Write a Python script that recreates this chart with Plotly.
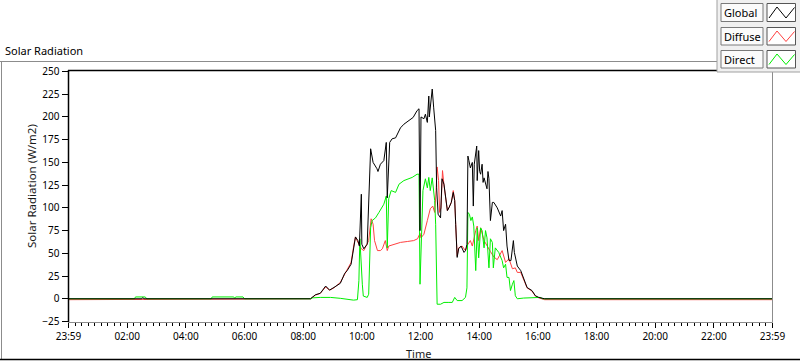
import plotly.graph_objects as go

# ---------------- data (time in minutes after midnight, values in W/m2) ----------------
global_t = [0, 150, 151, 153, 154, 495, 505, 515, 526, 534, 543, 550, 556, 565, 570, 578, 584, 587, 592, 595,
            599, 600, 604, 611, 618, 623, 631, 633, 638, 645, 650, 652, 657, 662, 669, 679, 686, 696, 705,
            713, 717, 719, 721, 727, 730, 734, 736, 737, 738, 742, 744, 747, 751, 753, 756, 761, 764, 768,
            771, 775, 778, 783, 787, 790, 792, 794, 795, 798, 803, 809, 812, 815, 817, 819, 822, 826, 828,
            830, 833, 835, 836, 839, 841, 843, 846, 848, 850, 853, 856, 858, 860, 863, 867, 870, 877, 884,
            887, 890, 894, 897, 901, 905, 910, 912, 918, 925, 931, 938, 948, 955, 962, 972, 974, 1440]
global_v = [0, 0, 1, 1, 0, 0, 4.4, 6, 14, 9.5, 12.5, 15, 17, 28, 31, 38, 58, 68, 64, 58,
            115, 60, 55, 60, 165, 150, 143, 140, 148, 152, 172, 111, 172, 176, 177, 188, 192, 196, 199.5,
            207, 209, 75, 200, 198, 203, 194, 215, 223, 200, 227, 230.7, 210, 185, 122, 93, 89, 132, 126,
            111, 97, 100, 106, 117, 108, 82, 49, 45.5, 55, 58, 51, 53, 60, 157, 152, 144, 150, 102,
            148, 160, 168, 130, 163, 140, 137, 148, 128, 133, 126, 121, 140, 132, 86, 106, 106, 100, 91,
            97, 75, 82, 58, 42, 42, 64, 51, 36, 31, 21.7, 12.4, 9, 3.3, 1.5, 0.3, 0, 0]

diffuse_t = [0, 495, 505, 515, 526, 534, 543, 550, 556, 565, 570, 578, 584, 587, 592, 594, 599, 604, 609,
             614, 619, 623, 626, 630, 632, 638, 642, 648, 652, 655, 665, 679, 693, 706, 714, 719, 721, 727,
             734, 740, 745, 749, 752, 754, 757, 759, 762, 765, 768, 771, 775, 778, 783, 787, 790, 792, 795,
             798, 805, 812, 817, 822, 826, 833, 836, 839, 843, 850, 856, 863, 870, 877, 887, 894, 901, 908,
             914, 918, 925, 931, 938, 948, 955, 962, 972, 974, 1440]
diffuse_v = [-1, 0, 4, 6, 13, 9.5, 12, 15, 18, 27, 32, 40, 60, 68, 62, 60, 55, 53, 58,
             64, 88, 82, 64, 55, 53, 53, 55, 64, 53, 58, 60, 62, 63, 64, 66, 72, 67, 71,
             86, 99, 102, 95, 119, 145, 130, 95, 100, 141, 125, 111, 97, 100, 106, 119, 108, 82, 47,
             56, 58, 53, 60, 64, 58, 75, 80, 64, 78, 64, 58, 52, 46, 43, 53, 40, 44, 33,
             34, 29, 29, 21, 12, 8.5, 3, 1, 0, -1, -1]

direct_t = [0, 135, 137, 157, 160, 292, 294, 338, 340, 342, 357, 360, 495, 499, 515, 536, 556, 577, 583,
            591, 594, 596, 598, 601, 603, 611, 614, 617, 618, 621, 628, 635, 645, 650, 652, 655, 660, 669,
            676, 686, 696, 703, 713, 717, 719, 721, 723, 725, 730, 734, 737, 740, 744, 746, 749, 751, 753,
            754, 761, 768, 778, 785, 790, 795, 805, 812, 815, 817, 820, 823, 826, 829, 833, 836, 839, 843,
            846, 850, 853, 856, 860, 863, 867, 869, 873, 880, 887, 890, 894, 897, 901, 904, 908, 911, 914,
            918, 931, 959, 965, 970, 1440]
direct_v = [0, 0, 2, 2, 0, 0, 2, 2, 0.5, 2, 2, 0, 0, 1, 1.5, 1.5, 0.5, -0.5, -1.5,
            -1, 20, 66, 40, 16, 3, 1.5, 5, 60, 78, 86, 89, 95, 104, 113, 56, 110, 119, 117,
            126, 130, 132, 133.5, 137, 137, 16, 60, 75, 119, 132, 122, 133.5, 119, 133, 122, 108, 82, 27,
            -6, -6, -4, -4, -4, 1.5, -2, -2, 1.5, 12, 95, 93, 86, 90, 80, 31, 78, 45, 78,
            75, 56, 75, 67, 34, 66, 62, 34, 56, 51, 42, 34, 38, 23.5, 23.5, 9, 16, 20, 3.3,
            0, 0.8, 0.8, 1.5, 0, 0]

x_tick_vals = [0, 120, 240, 360, 480, 600, 720, 840, 960, 1080, 1200, 1320, 1440]
x_tick_text = ["23:59", "02:00", "04:00", "06:00", "08:00", "10:00", "12:00",
               "14:00", "16:00", "18:00", "20:00", "22:00", "23:59"]
y_tick_vals = [-25, 0, 25, 50, 75, 100, 125, 150, 175, 200, 225, 250]
series_names = ["Global", "Diffuse", "Direct"]
series_colors = ["#000000", "#ff4040", "#00ee00"]

# ---------------- figure ----------------
W, H = 800, 361
FONT = "Noto Sans"


def px(x):
    return x / W


def py(y):
    return 1 - y / H


fig = go.Figure()
fig.add_trace(go.Scatter(x=diffuse_t, y=diffuse_v, mode="lines", name="Diffuse",
                         line=dict(color=series_colors[1], width=1), showlegend=False))
fig.add_trace(go.Scatter(x=direct_t, y=direct_v, mode="lines", name="Direct",
                         line=dict(color=series_colors[2], width=1), showlegend=False))
fig.add_trace(go.Scatter(x=global_t, y=global_v, mode="lines", name="Global",
                         line=dict(color=series_colors[0], width=1), showlegend=False))

shapes = []


def line(x0, y0, x1, y1, color, width=1):
    shapes.append(dict(type="line", xref="paper", yref="paper", x0=px(x0), y0=py(y0),
                       x1=px(x1), y1=py(y1), line=dict(color=color, width=width), layer="above"))


def rect(x0, y0, x1, y1, fill, border, width=1):
    shapes.append(dict(type="rect", xref="paper", yref="paper", x0=px(x0), y0=py(y0),
                       x1=px(x1), y1=py(y1), fillcolor=fill, line=dict(color=border, width=width),
                       layer="above"))


# outer frame
line(0, 61.5, 717, 61.5, "#8c8c8c")
line(1.5, 61.5, 1.5, 359.5, "#8c8c8c")
line(0, 359.5, 800, 359.5, "#000000", 1.5)
# plot border
line(68, 70.5, 772, 70.5, "#000000", 1.5)
line(68.5, 70, 68.5, 322, "#000000", 1.5)
line(772.5, 70, 772.5, 322.5, "#8c8c8c")
line(68, 322.5, 772.5, 322.5, "#8c8c8c")

# legend panel
rect(717, -2, 802, 72, "#f0f0f0", "#a0a0a0")
annotations = []
rows = [(3.5, 21.5), (27.5, 45), (50.5, 68)]
for (t, b), name, col in zip(rows, series_names, series_colors):
    rect(721, t, 763, b, "#fbfbfb", "#7a7a7a")
    rect(767, t, 795.5, b, "#ffffff", "#555555")
    yb, yt = b - 3.5, t + 3.5
    path = "M {} {} L {} {} L {} {} L {} {}".format(
        px(769), py(yb), px(777), py(yt), px(786), py(yb), px(794.5), py(yt + 0.5))
    shapes.append(dict(type="path", xref="paper", yref="paper", path=path,
                       line=dict(color=col, width=1), layer="above"))
    annotations.append(dict(text=name, xref="paper", yref="paper", x=px(722), y=py((t + b) / 2),
                            xanchor="left", yanchor="middle", showarrow=False,
                            font=dict(family=FONT, size=11, color="#000000")))

annotations.append(dict(text="Solar Radiation", xref="paper", yref="paper", x=px(3), y=py(50.5),
                        xanchor="left", yanchor="middle", showarrow=False,
                        font=dict(family=FONT, size=11, color="#000000")))
annotations.append(dict(text="Solar Radiation (W/m2)", xref="paper", yref="paper", x=px(31),
                        y=py(186), xanchor="center", yanchor="middle", showarrow=False, textangle=-90,
                        font=dict(family=FONT, size=11.5, color="#1a1a1a")))
annotations.append(dict(text="Time", xref="paper", yref="paper", x=px(418), y=py(353),
                        xanchor="center", yanchor="middle", showarrow=False,
                        font=dict(family=FONT, size=11, color="#1a1a1a")))

fig.update_layout(
    width=W, height=H,
    margin=dict(l=0, r=0, t=0, b=0),
    paper_bgcolor="#ffffff", plot_bgcolor="#ffffff",
    shapes=shapes, annotations=annotations,
    xaxis=dict(domain=[px(68.5), px(772.5)], range=[0, 1440], tickmode="array",
               tickvals=x_tick_vals, ticktext=x_tick_text, showgrid=False, zeroline=False,
               showline=False, ticks="outside", ticklen=5, tickcolor="#000000", tickwidth=1,
               tickfont=dict(family=FONT, size=10, color="#000000"),
               minor=dict(ticks="outside", ticklen=3, tickcolor="#000000", tick0=0, dtick=120 / 9,
                          showgrid=False),
               automargin=False, fixedrange=True),
    yaxis=dict(domain=[py(321.5), py(71.5)], range=[-25, 250], tickmode="array",
               tickvals=y_tick_vals, showgrid=False, zeroline=False, showline=False,
               ticks="outside", ticklen=6, tickcolor="#000000", tickwidth=1,
               tickfont=dict(family=FONT, size=10, color="#000000"),
               automargin=False, fixedrange=True),
)

fig.write_html("out.html", config={"displayModeBar": False},
               post_script="document.body.style.margin='0';document.body.style.overflow='hidden';")
